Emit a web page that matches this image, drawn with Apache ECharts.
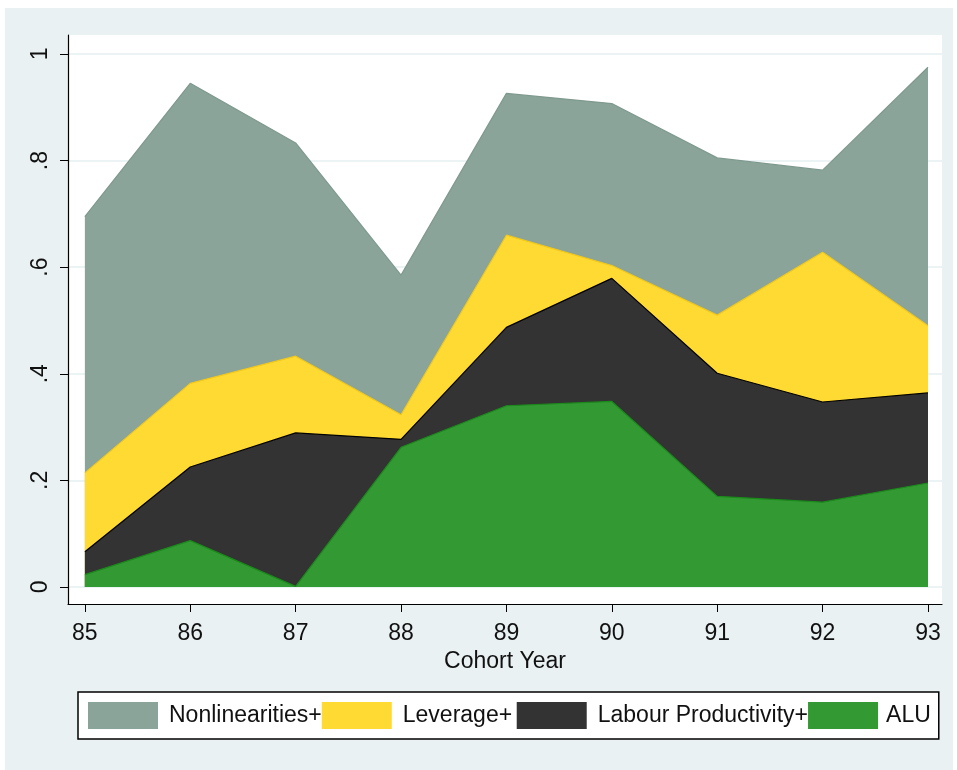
<!DOCTYPE html>
<html>
<head>
<meta charset="utf-8">
<script src="https://cdn.jsdelivr.net/npm/echarts@6/dist/echarts.min.js"></script>
<style>
  html, body { margin: 0; padding: 0; background: #fff; }
  #chart { width: 957px; height: 770px; }
</style>
</head>
<body>
<div id="chart"></div>
<script>
// cohort years on the x axis
const years = [85, 86, 87, 88, 89, 90, 91, 92, 93]

// cumulative contributions
const nonlinearities = [0.695, 0.945, 0.833, 0.585, 0.926, 0.907, 0.805, 0.782, 0.975]
const leverage = [0.214, 0.382, 0.433, 0.323, 0.660, 0.603, 0.510, 0.628, 0.490]
const labour = [0.066, 0.225, 0.289, 0.277, 0.487, 0.579, 0.401, 0.347, 0.364]
const alu = [0.023, 0.087, 0.001, 0.262, 0.340, 0.348, 0.170, 0.159, 0.195]

const yTicks = [0, 0.2, 0.4, 0.6, 0.8, 1]
const yTickLabels = ['0', '.2', '.4', '.6', '.8', '1']

const font = "'Liberation Sans Narrow', 'Liberation Sans', Arial, sans-serif"

const pairs = (vals) => years.map((y, i) => [y, vals[i]])

const areaSeries = (name, vals, fill, edge) => ({
  name,
  type: 'line',
  data: pairs(vals),
  symbol: 'none',
  itemStyle: { color: fill },
  lineStyle: { color: edge, width: 1.2 },
  areaStyle: { color: fill, opacity: 1 },
  emphasis: { disabled: true }
})

const chart = echarts.init(document.getElementById('chart'), null, { renderer: 'canvas' })

const option = {
  animation: false,
  graphic: [{
    type: 'rect',
    z: -10,
    shape: { x: 5, y: 8, width: 948, height: 762 },
    style: { fill: '#e9f1f3' }
  }],
  grid: {
    left: 68,
    right: 15,
    top: 35,
    bottom: 166,
    show: true,
    backgroundColor: '#ffffff',
    borderWidth: 0
  },
  xAxis: {
    type: 'value',
    min: 84.84,
    max: 93.133,
    name: 'Cohort Year',
    nameLocation: 'middle',
    nameGap: 45,
    nameTextStyle: { fontFamily: font, fontSize: 23, color: '#111' },
    axisLine: { show: true, onZero: false, lineStyle: { color: '#000', width: 1.2 } },
    axisTick: { show: true, length: 8, customValues: years, lineStyle: { color: '#000' } },
    axisLabel: {
      customValues: years,
      margin: 18,
      fontFamily: font,
      fontSize: 23,
      color: '#111'
    },
    splitLine: { show: false }
  },
  yAxis: {
    type: 'value',
    min: -0.032,
    max: 1.0356,
    axisLine: { show: true, onZero: false, lineStyle: { color: '#000', width: 1.2 } },
    axisTick: { show: true, length: 8, customValues: yTicks, lineStyle: { color: '#000' } },
    axisLabel: {
      customValues: yTicks,
      rotate: 90,
      margin: 16,
      fontFamily: font,
      fontSize: 23,
      color: '#111',
      formatter: (v) => yTickLabels[yTicks.findIndex(t => Math.abs(t - v) < 1e-6)] ?? ''
    },
    splitLine: { show: true, lineStyle: { color: '#e6eff1', width: 1.5 } }
  },
  legend: {
    left: 78,
    top: 692,
    width: 860,
    orient: 'horizontal',
    icon: 'rect',
    itemWidth: 70,
    itemHeight: 27,
    itemGap: 0,
    padding: [10, 8, 10, 10],
    backgroundColor: '#ffffff',
    borderColor: '#000',
    borderWidth: 1.5,
    selectedMode: false,
    data: [
      { name: 'Nonlinearities+' },
      { name: 'Leverage+' },
      { name: 'Labour Productivity+' },
      { name: 'ALU', textStyle: { padding: [0, 0, 0, 3] } }
    ],
    // Stata leaves a slightly wider slot after "Leverage+"
    formatter: (name) => name === 'Leverage+' ? name + '\u2009' : name,
    textStyle: { fontFamily: font, fontSize: 23, color: '#111', padding: [0, 0, 0, 6] }
  },
  series: [
    areaSeries('Nonlinearities+', nonlinearities, '#8aa499', '#7f998e'),
    areaSeries('Leverage+', leverage, '#ffda33', '#f2c81a'),
    areaSeries('Labour Productivity+', labour, '#333333', '#000000'),
    areaSeries('ALU', alu, '#339933', '#1a8a1a')
  ]
}

chart.setOption(option)
</script>
</body>
</html>
